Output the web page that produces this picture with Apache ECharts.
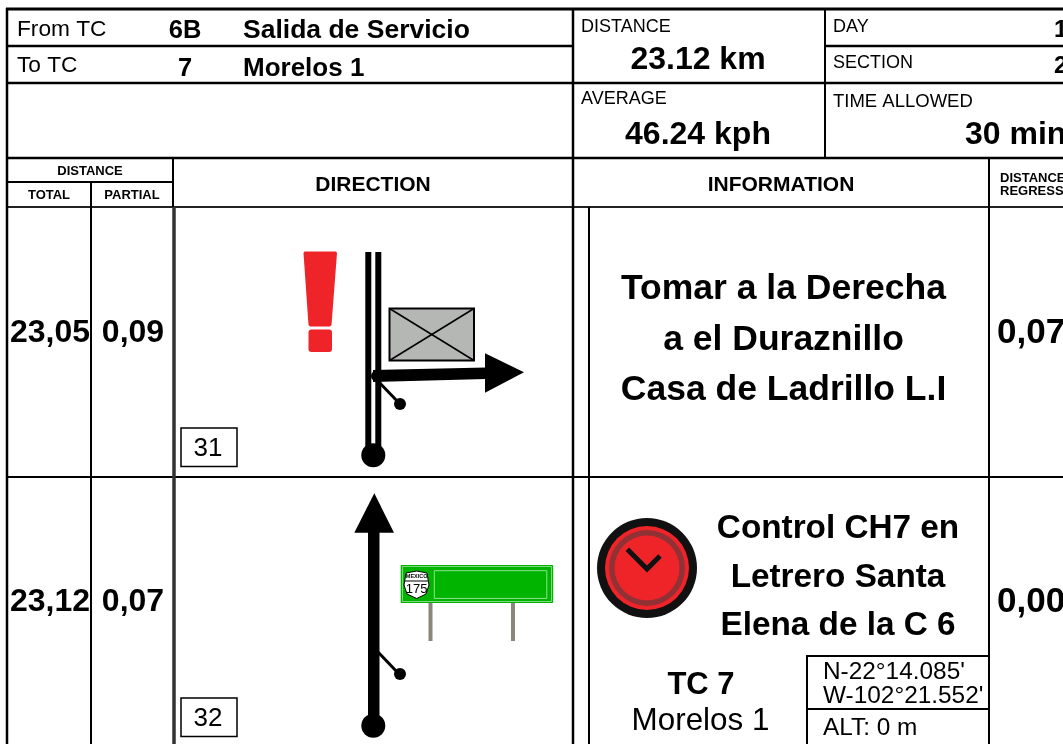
<!DOCTYPE html>
<html>
<head>
<meta charset="utf-8">
<title>Roadbook</title>
<script src="https://cdn.jsdelivr.net/npm/echarts@6/dist/echarts.min.js"></script>
<style>
    html, body { margin: 0; padding: 0; background: #fff; overflow: hidden; }
    #roadbook { width: 1063px; height: 744px; }
</style>
</head>
<body>
<div id="roadbook"></div>
<script>
    // header values
    const fromTc = ['From TC', '6B', 'Salida de Servicio']
    const toTc = ['To TC', '7', 'Morelos 1']
    const sectionDistance = ['DISTANCE', '23.12 km']
    const sectionAverage = ['AVERAGE', '46.24 kph']
    const sectionDay = ['DAY', '1']
    const sectionNumber = ['SECTION', '2']
    const timeAllowed = ['TIME ALLOWED', '30 min']

    // table columns
    const columnTitles = ['DISTANCE', 'TOTAL', 'PARTIAL', 'DIRECTION', 'INFORMATION']
    const regressTitle = ['DISTANCE', 'REGRESS']

    // rows
    const totals = ['23,05', '23,12']
    const partials = ['0,09', '0,07']
    const regress = ['0,07', '0,00']
    const boxNumbers = ['31', '32']
    const infoRow1 = ['Tomar a la Derecha', 'a el Duraznillo', 'Casa de Ladrillo L.I']
    const infoRow2 = ['Control CH7 en', 'Letrero Santa', 'Elena de la C 6']
    const tcName = ['TC 7', 'Morelos 1']
    const coords = ["N-22°14.085'", "W-102°21.552'", 'ALT: 0 m']
    const shieldText = ['MEXICO', '175']

    const items = []

    function line(x1, y1, x2, y2, w, color) {
        items.push({ type: 'line', silent: true, shape: { x1, y1, x2, y2 },
            style: { stroke: color || '#000', lineWidth: w || 2 } })
    }
    function text(x, y, s, size, bold, align, color) {
        items.push({ type: 'text', silent: true, style: {
            x, y, text: s, fill: color || '#000', align: align || 'left', verticalAlign: 'middle',
            fontFamily: 'Liberation Sans', fontSize: size, fontWeight: bold ? 'bold' : 'normal' } })
    }
    function poly(points, fill) {
        items.push({ type: 'polygon', silent: true, shape: { points }, style: { fill } })
    }
    function circle(cx, cy, r, fill) {
        items.push({ type: 'circle', silent: true, shape: { cx, cy, r }, style: { fill } })
    }
    function box(x, y, width, height, fill, stroke, w, r) {
        items.push({ type: 'rect', silent: true, shape: { x, y, width, height, r: r || 0 },
            style: { fill: fill || 'none', stroke: stroke || null, lineWidth: w || 0 } })
    }

    // grid
    line(6, 9, 1063, 9, 3)
    line(7, 46, 573, 46, 2.5)
    line(825, 46, 1063, 46, 2.5)
    line(7, 83, 1063, 83, 2.5)
    line(7, 158, 1063, 158, 2.5)
    line(7, 182, 173, 182, 2)
    line(7, 207, 1063, 207, 2, '#222')
    line(7, 477, 1063, 477, 2)
    line(7, 8, 7, 744, 2.5)
    line(573, 9, 573, 744, 2.5)
    line(825, 9, 825, 158, 2)
    line(91, 182, 91, 744, 2)
    line(173, 158, 173, 207, 2)
    line(174, 207, 174, 744, 3.5, '#333')
    line(589, 207, 589, 744, 2)
    line(989, 158, 989, 744, 2)

    // top left
    text(17, 30, fromTc[0], 22.7)
    text(185, 31, fromTc[1], 25.5, true, 'center')
    text(243, 31, fromTc[2], 26.5, true)
    text(17, 66, toTc[0], 22.7)
    text(185, 69, toTc[1], 25.5, true, 'center')
    text(243, 69, toTc[2], 26, true)

    // top right
    text(581, 27.5, sectionDistance[0], 18)
    text(698, 60, sectionDistance[1], 32, true, 'center')
    text(581, 99, sectionAverage[0], 18)
    text(698, 135, sectionAverage[1], 32, true, 'center')
    text(833, 27.5, sectionDay[0], 18)
    text(1054, 30, sectionDay[1], 24, true)
    text(833, 63.5, sectionNumber[0], 18)
    text(1054, 66, sectionNumber[1], 24, true)
    text(833, 102, timeAllowed[0], 18.5)
    text(965, 135, timeAllowed[1], 32, true)

    // column titles
    text(90, 171.5, columnTitles[0], 13, true, 'center')
    text(49, 195.5, columnTitles[1], 13, true, 'center')
    text(132, 195.5, columnTitles[2], 13, true, 'center')
    text(373, 185, columnTitles[3], 21, true, 'center')
    text(781, 185, columnTitles[4], 21, true, 'center')
    text(1000, 178.5, regressTitle[0], 13, true)
    text(1000, 191.5, regressTitle[1], 13, true)

    // distances, one per row
    const rowMiddle = [333.5, 602.5]
    const boxTop = [428, 698]
    totals.forEach(function (v, i) {
        text(10, rowMiddle[i], v, 32, true)
        text(133, rowMiddle[i], partials[i], 32, true, 'center')
        text(997, rowMiddle[i], regress[i], 35, true)
        box(181, boxTop[i], 56, 38.5, '#fff', '#000', 1.5)
        text(208, boxTop[i] + 20.5, boxNumbers[i], 26, false, 'center')
    })

    // row 1 direction
    poly([[303.5, 253], [304.5, 251.5], [336, 251.5], [337, 253], [331.5, 325], [330, 326.5], [310, 326.5], [308.5, 325]], '#ee2429')
    box(308.5, 329.5, 23.5, 22.5, '#ee2429', null, 0, 3)
    box(365.3, 252, 6, 203, '#000')
    box(375.3, 252, 6, 203, '#000')
    box(389.5, 308.5, 84.5, 52, '#b5b7b5', '#000', 2)
    line(389.5, 308.5, 474, 360.5, 1.5)
    line(389.5, 360.5, 474, 308.5, 1.5)
    poly([[373, 370], [486, 367.5], [486, 379], [373, 382]], '#000')
    poly([[485, 353.3], [485, 392.7], [524, 372.3]], '#000')
    circle(376, 376, 5, '#000')
    line(375, 378, 400, 404, 3)
    circle(400, 404, 6, '#000')
    circle(373.3, 455.3, 12, '#000')

    // row 2 direction
    poly([[374.3, 493.3], [354.3, 532.7], [394, 532.7]], '#000')
    box(368, 532, 11.5, 194, '#000')
    line(378, 652, 399, 674, 3)
    circle(400, 674, 6, '#000')
    circle(373.3, 725.7, 12, '#000')

    // road sign
    box(428.5, 602, 4, 39, '#8c8678')
    box(511, 601, 4, 40, '#8c8678')
    box(400.7, 565, 152.5, 38, '#00b400', null, 0, 1)
    box(402.5, 566.5, 149, 35, 'none', '#9fe09f', 0.8)
    box(434.3, 570.7, 112.5, 27.7, 'none', '#b8ecb8', 0.8)
    poly([[406, 573], [416.7, 571], [427, 573], [429, 585], [426, 594], [416.7, 598.5], [407, 594], [404, 585]], '#fff')
    items.push({ type: 'polygon', silent: true, shape: { points: [[406, 573], [416.7, 571], [427, 573], [429, 585], [426, 594], [416.7, 598.5], [407, 594], [404, 585]] },
        style: { fill: 'none', stroke: '#000', lineWidth: 1 } })
    line(405, 581, 428, 581, 1)
    text(416.7, 576.5, shieldText[0], 5.5, true, 'center')
    text(416.7, 589, shieldText[1], 13, false, 'center')

    // row 1 info
    const info1Y = [289.5, 340.5, 390.5]
    infoRow1.forEach(function (s, i) { text(783.5, info1Y[i], s, 35.5, true, 'center') })

    // row 2 info
    circle(647, 568, 50, '#111')
    circle(647, 568, 42, '#ee2429')
    circle(647, 568, 38, '#8f3135')
    circle(647, 568, 32.5, '#ee2429')
    items.push({ type: 'polyline', silent: true, shape: { points: [[627.3, 549.3], [647, 569], [660, 556]] },
        style: { stroke: '#111', lineWidth: 5, fill: 'none' } })
    const info2Y = [529, 578, 626]
    infoRow2.forEach(function (s, i) { text(838, info2Y[i], s, 33.3, true, 'center') })

    text(701, 685, tcName[0], 31, true, 'center')
    text(700.5, 721, tcName[1], 31.4, false, 'center')

    line(807, 656, 989, 656, 2)
    line(807, 709, 989, 709, 2)
    line(807, 655, 807, 744, 2)
    text(823, 672.5, coords[0], 24.4)
    text(823, 696.5, coords[1], 24.4)
    text(823, 728.5, coords[2], 24.4)

    const myChart = echarts.init(document.getElementById('roadbook'), null, { renderer: 'canvas' })
    myChart.setOption({
        backgroundColor: '#fff',
        animation: false,
        graphic: { elements: items }
    })
</script>
</body>
</html>
